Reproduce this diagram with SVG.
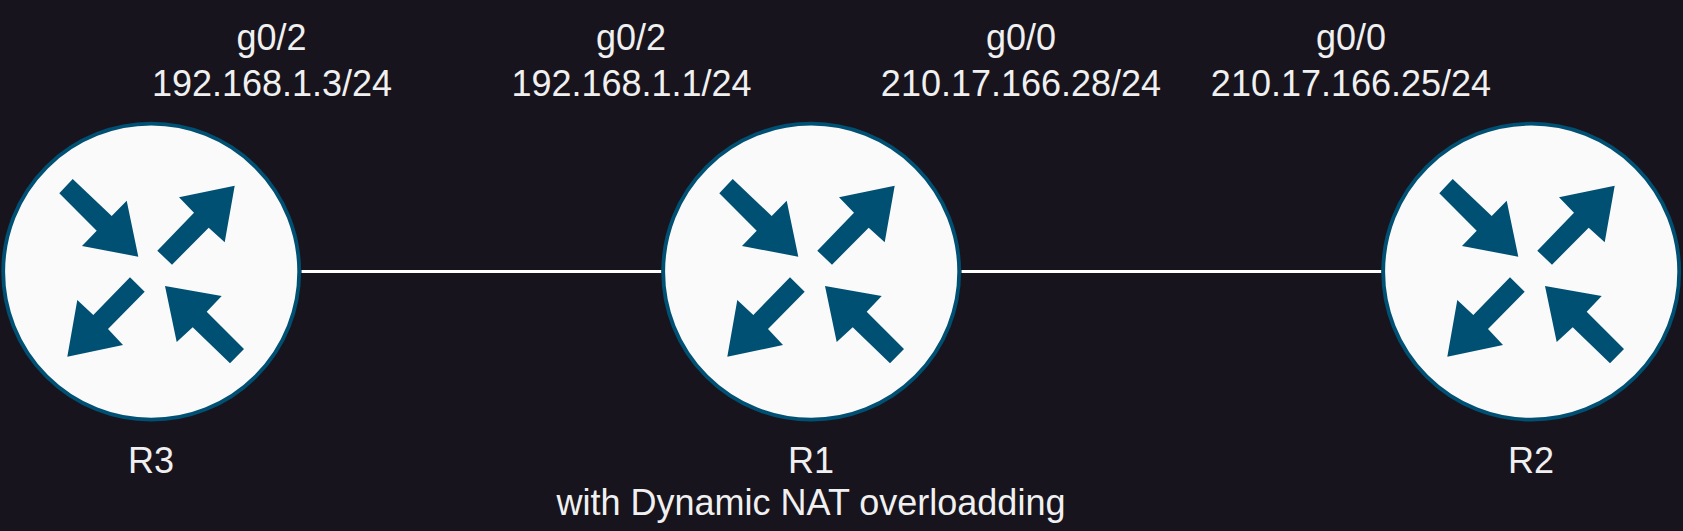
<svg xmlns="http://www.w3.org/2000/svg" width="1683" height="531" viewBox="0 0 1683 531">
<style>
text{font-family:"Liberation Sans",Arial,sans-serif;font-size:36px;fill:#f0f0f0;text-anchor:middle}
.body{fill:#fafafa;stroke:#005073;stroke-width:3.8}
.arrow{fill:#005073}
.link{stroke:#fff;stroke-width:3;fill:none}
</style>
<defs>
<g id="router">
<circle class="body" cx="151.2" cy="271.7" r="148"/>
<polygon class="arrow" points="72.7,179 59.3,193.3 96.7,230.7 82,246 138.3,256.7 126.7,200.7 111.7,216"/>
<polygon class="arrow" points="157.3,250.7 172,264.7 208.7,227.7 224.7,242.3 234.7,185.7 179,197.3 194,212.7"/>
<polygon class="arrow" points="130,277.3 144.7,291.7 108,329 123,345 67.3,356.7 77.3,300 93.3,315"/>
<polygon class="arrow" points="244,349 230,363.3 192.7,327.3 176.7,342 165,286 221.7,296 206.7,311.7"/>
</g>
</defs>
<rect width="1683" height="531" fill="#18141d"/>
<g id="connectors">
<line class="link" x1="301.5" y1="271.5" x2="661.5" y2="271.5"/>
<line class="link" x1="961.5" y1="271.5" x2="1381.5" y2="271.5"/>
</g>
<g id="R3"><use href="#router"/><text x="151" y="473">R3</text></g>
<g id="R1"><use href="#router" x="660"/><text x="811" y="473">R1</text><text x="811" y="515">with Dynamic NAT overloadding</text></g>
<g id="R2"><use href="#router" x="1380"/><text x="1531" y="473">R2</text></g>
<g id="if-r3"><text x="271.5" y="50">g0/2</text><text x="272" y="96">192.168.1.3/24</text></g>
<g id="if-r1-g2"><text x="631" y="50">g0/2</text><text x="631.5" y="96">192.168.1.1/24</text></g>
<g id="if-r1-g0"><text x="1021" y="50">g0/0</text><text x="1021" y="96">210.17.166.28/24</text></g>
<g id="if-r2-g0"><text x="1351" y="50">g0/0</text><text x="1351" y="96">210.17.166.25/24</text></g>
</svg>
